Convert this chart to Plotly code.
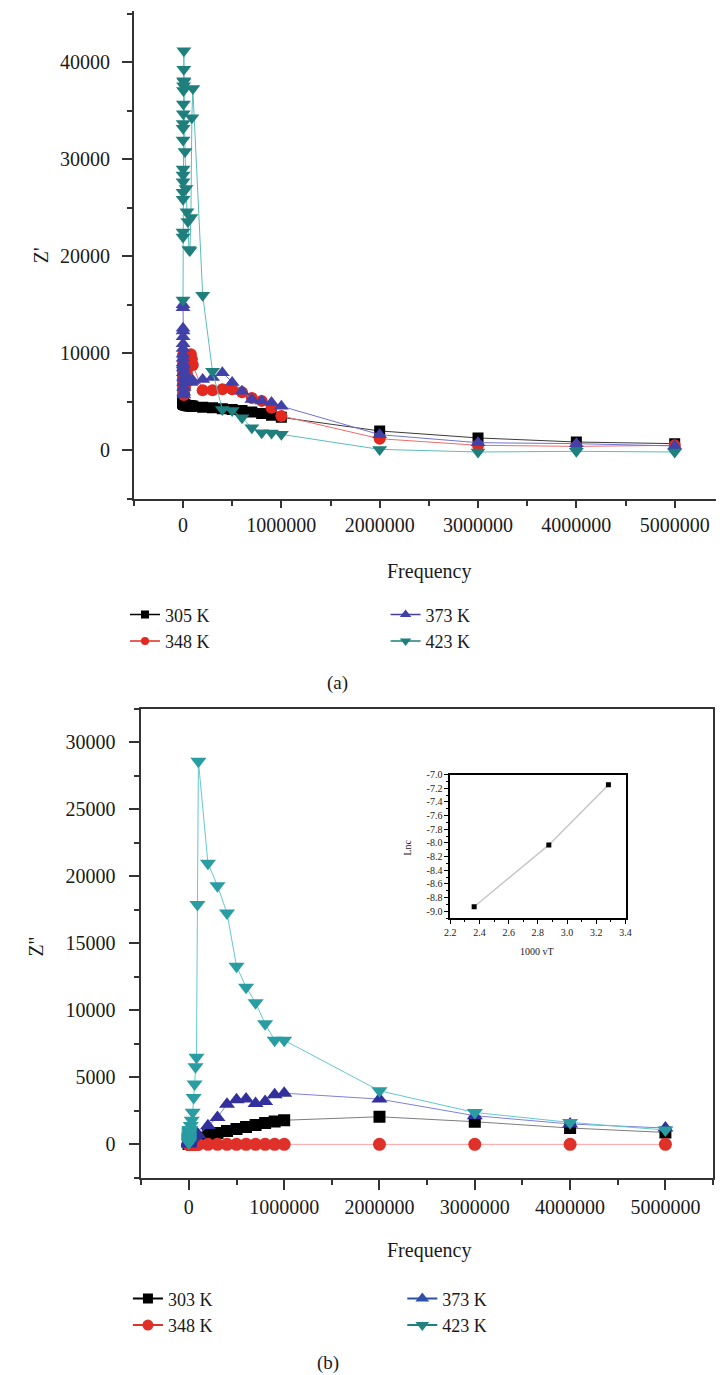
import plotly.graph_objects as go

W, H = 722, 1375

# ---------------- data ----------------
freq = [100, 200, 300, 400, 500, 600, 700, 800, 900,
        1000, 2000, 3000, 4000, 5000, 6000, 7000, 8000, 9000,
        10000, 20000, 30000, 40000, 50000, 60000, 70000, 80000, 90000,
        100000, 200000, 300000, 400000, 500000, 600000, 700000, 800000, 900000, 1000000,
        2000000, 3000000, 4000000, 5000000]

# (a) Z'
zr_305 = [5200, 5100, 5050, 5000, 4980, 4950, 4930, 4900, 4880,
          4860, 4820, 4800, 4780, 4770, 4760, 4750, 4740, 4730,
          4720, 4680, 4650, 4630, 4610, 4600, 4580, 4570, 4560,
          4550, 4450, 4380, 4300, 4200, 4100, 3950, 3800, 3620, 3400,
          2000, 1280, 860, 690]
zr_348 = [9800, 9200, 8800, 8500, 8200, 7900, 7600, 7300, 7000,
          6800, 6500, 6300, 6100, 6000, 5900, 5800, 5750, 5700,
          5800, 6500, 7200, 7900, 8500, 9100, 9600, 9900, 9400,
          8800, 6200, 6200, 6300, 6300, 6000, 5400, 5100, 4400, 3550,
          1200, 520, 410, 520]
zr_373 = [15000, 14700, 12600, 12300, 11700, 11000, 10500, 9900, 9500,
          9000, 8800, 8500, 8000, 7500, 7000, 6500, 6000, 5700,
          6500, 7000, 7400, 7600, 7500, 7300, 7200, 7000, 7100,
          7200, 7300, 7500, 8000, 7000, 6100, 5240, 5100, 4930, 4550,
          1620, 790, 690, 450]
zr_423 = [15500, 22000, 22500, 25900, 26600, 27700, 28400, 29000, 32000,
          33200, 33700, 34700, 35700, 37100, 37600, 38100, 39300, 41200,
          38000, 30800, 27000, 24600, 23600, 20700, 20600, 24000, 34300,
          37300, 16000, 8150, 4200, 4100, 3360, 2340, 1820, 1800, 1650,
          100, -170, -100, -170]

# (b) Z''
zi_303 = [20, 30, 40, 50, 60, 70, 80, 90, 100,
          120, 150, 170, 190, 200, 210, 220, 230, 240,
          250, 260, 270, 290, 300, 320, 340, 360, 380,
          500, 700, 850, 1000, 1150, 1300, 1450, 1600, 1700, 1800,
          2060, 1690, 1220, 890]
zi_348 = [0, 0, 0, 0, 0, 0, 0, 0, 0,
          0, 0, 0, 0, 0, 0, 0, 0, 0,
          0, 0, 0, 0, 0, 0, 0, 0, 0,
          0, 0, 0, 0, 0, 0, 0, 0, 0, 0,
          0, 0, 0, 0]
zi_373 = [20, 40, 60, 80, 100, 120, 140, 160, 180,
          200, 220, 250, 280, 300, 330, 360, 400, 430,
          450, 500, 550, 600, 650, 700, 750, 800, 780,
          700, 1390, 2010, 3000, 3330, 3380, 3050, 3200, 3700, 3820,
          3380, 2140, 1520, 1220]
zi_423 = [100, 150, 200, 250, 300, 350, 400, 450, 500,
          550, 600, 700, 800, 900, 950, 1000, 1050, 1100,
          1100, 1400, 1800, 2400, 3500, 4500, 5800, 6500, 17900,
          28600, 20990, 19300, 17260, 13300, 11730, 10570, 9000, 7770, 7770,
          4000, 2380, 1640, 1070]

# inset
inv_T = [2.364, 2.875, 3.283]
ln_c = [-8.935, -8.03, -7.15]
inset_yticks = [-9.0, -8.8, -8.6, -8.4, -8.2, -8.0, -7.8, -7.6, -7.4, -7.2, -7.0]
inset_yticklabels = ["-9.0", "-8.8", "-8.6", "-8.4", "-8.2", "-8.0", "-7.8", "-7.6", "-7.4", "-7.2", "-7.0"]

labels_a = ["305 K", "348 K", "373 K", "423 K"]
labels_b = ["303 K", "348 K", "373 K", "423 K"]

# ---------------- helpers ----------------
def px(x):
    return x / W

def py(y):
    return 1 - y / H

SERIF = "Liberation Serif, Times New Roman, serif"

fig = go.Figure()

# (a)
styles_a = [
    dict(symbol="square", size=11, color="#000000", line="#3a3a3a", lg="#000000", ls=8),
    dict(symbol="circle", size=12, color="#e2281f", line="#f06a6a", lg="#e2281f", ls=8),
    dict(symbol="triangle-up", size=13, color="#4141a8", line="#7272d2", lg="#4141a8", ls=10),
    dict(symbol="triangle-down", size=13, color="#1f7f7c", line="#5cbcbc", lg="#1f7f7c", ls=10),
]
series_a = [zr_305, zr_348, zr_373, zr_423]
legends_a = ["legend", "legend", "legend2", "legend2"]
for ys, st, lab, lg in zip(series_a, styles_a, labels_a, legends_a):
    fig.add_trace(go.Scatter(
        x=freq, y=ys, mode="lines+markers", name=lab, showlegend=False,
        line=dict(color=st["line"], width=1),
        marker=dict(symbol=st["symbol"], size=st["size"], color=st["color"], line=dict(width=0)),
        xaxis="x", yaxis="y"))
    fig.add_trace(go.Scatter(
        x=[None], y=[None], mode="lines+markers", name=lab, showlegend=True,
        line=dict(color=st["lg"], width=1.5),
        marker=dict(symbol=st["symbol"], size=st["ls"], color=st["lg"], line=dict(width=0)),
        xaxis="x", yaxis="y", legend=lg))

# (b)
styles_b = [
    dict(symbol="square", size=12, color="#000000", line="#7d7d7d", lg="#000000", ls=10),
    dict(symbol="circle", size=13, color="#e0302a", line="#ffa3a3", lg="#e0302a", ls=11),
    dict(symbol="triangle-up", size=14, color="#33309e", line="#7f80dd", lg="#2f4fa8", ls=12),
    dict(symbol="triangle-down", size=14, color="#2a9da2", line="#62c8d0", lg="#22807e", ls=12),
]
series_b = [zi_303, zi_348, zi_373, zi_423]
legends_b = ["legend3", "legend3", "legend4", "legend4"]
for ys, st, lab, lg in zip(series_b, styles_b, labels_b, legends_b):
    fig.add_trace(go.Scatter(
        x=freq, y=ys, mode="lines+markers", name=lab, showlegend=False,
        line=dict(color=st["line"], width=1),
        marker=dict(symbol=st["symbol"], size=st["size"], color=st["color"], line=dict(width=0)),
        xaxis="x2", yaxis="y2"))
    fig.add_trace(go.Scatter(
        x=[None], y=[None], mode="lines+markers", name=lab, showlegend=True,
        line=dict(color=st["lg"], width=2),
        marker=dict(symbol=st["symbol"], size=st["ls"], color=st["lg"], line=dict(width=0)),
        xaxis="x2", yaxis="y2", legend=lg))

# inset
fig.add_trace(go.Scatter(
    x=inv_T, y=ln_c, mode="lines+markers", showlegend=False,
    line=dict(color="#c8c8c8", width=1.5),
    marker=dict(symbol="square", size=5, color="#000000"),
    xaxis="x3", yaxis="y3"))

tickfont = dict(family=SERIF, size=20, color="#1a1a1a")
axcol = "#333333"

common = dict(showgrid=False, zeroline=False, showline=True, linecolor=axcol, linewidth=1.5,
              ticks="outside", tickcolor=axcol, tickwidth=1.5, tickfont=tickfont, tickformat="d")

legfont = dict(family=SERIF, size=18, color="#1a1a1a")
legcommon = dict(xanchor="left", yanchor="top", bgcolor="rgba(0,0,0,0)", font=legfont,
                 itemsizing="trace", tracegroupgap=0, itemwidth=30)

fig.update_layout(
    width=W, height=H,
    margin=dict(l=0, r=0, t=0, b=0),
    paper_bgcolor="white", plot_bgcolor="white",
    xaxis=dict(domain=[px(130), 1.0], range=[-500000, 5420000], anchor="y",
               tickvals=[0, 1000000, 2000000, 3000000, 4000000, 5000000], ticklen=7,
               minor=dict(dtick=500000, tick0=0, ticks="outside", ticklen=5, tickcolor=axcol, tickwidth=1.5),
               **common),
    yaxis=dict(domain=[py(495), py(5)], range=[-5000, 45300], anchor="x",
               tickvals=[0, 10000, 20000, 30000, 40000], ticklen=10,
               minor=dict(dtick=5000, tick0=0, ticks="outside", ticklen=5, tickcolor=axcol, tickwidth=1.5),
               ticklabelstandoff=8, **common),
    xaxis2=dict(domain=[px(137.5), px(719)], range=[-500000, 5500000], anchor="y2", mirror=True,
                tickvals=[0, 1000000, 2000000, 3000000, 4000000, 5000000], ticklen=10,
                minor=dict(dtick=500000, tick0=0, ticks="outside", ticklen=5, tickcolor=axcol, tickwidth=1.5),
                **common),
    yaxis2=dict(domain=[py(1177), py(706)], range=[-2500, 32500], anchor="x2", mirror=True,
                tickvals=[0, 5000, 10000, 15000, 20000, 25000, 30000], ticklen=10,
                minor=dict(dtick=2500, tick0=0, ticks="outside", ticklen=5, tickcolor=axcol, tickwidth=1.5),
                ticklabelstandoff=10, **common),
    xaxis3=dict(domain=[px(451.7), px(630)], range=[2.2, 3.4], anchor="y3", mirror=True,
                showgrid=False, zeroline=False, showline=True, linecolor="#000", linewidth=1.5,
                ticks="outside", ticklen=4, tickwidth=1.2, tickcolor="#000",
                tickvals=[2.2, 2.4, 2.6, 2.8, 3.0, 3.2, 3.4], tickformat=".1f",
                minor=dict(dtick=0.1, tick0=2.2, ticks="outside", ticklen=2, tickcolor="#000"),
                tickfont=dict(family=SERIF, size=10, color="#222")),
    yaxis3=dict(domain=[py(916), py(772)], range=[-9.1, -7.0], anchor="x3", mirror=True,
                showgrid=False, zeroline=False, showline=True, linecolor="#000", linewidth=1.5,
                ticks="outside", ticklen=4, tickwidth=1.2, tickcolor="#000",
                tickvals=inset_yticks, ticktext=inset_yticklabels,
                minor=dict(dtick=0.1, tick0=-9.0, ticks="outside", ticklen=2, tickcolor="#000"),
                tickfont=dict(family=SERIF, size=10, color="#222")),
    legend=dict(x=px(121), y=py(593), **legcommon),
    legend2=dict(x=px(386), y=py(593), **legcommon),
    legend3=dict(x=px(124), y=py(1280), **legcommon),
    legend4=dict(x=px(403), y=py(1280), **legcommon),
)

def note(text, x, y, size=20, angle=0):
    fig.add_annotation(text=text, x=px(x), y=py(y), xref="paper", yref="paper",
                       showarrow=False, textangle=angle, xanchor="center", yanchor="middle",
                       font=dict(family=SERIF, size=size, color="#1a1a1a"))

note("Z'", 35, 250, 20, -90)
note("Frequency", 430, 568, 20)
note("(a)", 337, 680, 19)
note("Z''", 30, 945, 20, -90)
note("Frequency", 430, 1250, 20)
note("(b)", 327, 1363, 19)
note("Lnc", 408, 845, 10, -90)
note("1000 vT", 540, 950, 10)

fig.write_html("out.html")
